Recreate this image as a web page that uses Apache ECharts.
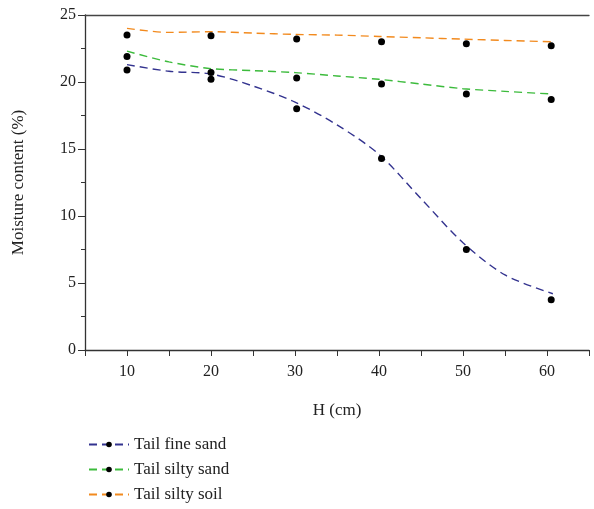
<!DOCTYPE html>
<html>
<head>
<meta charset="utf-8">
<script src="https://cdn.jsdelivr.net/npm/echarts@6/dist/echarts.min.js"></script>
<style>
  html, body { margin: 0; padding: 0; background: #fff; }
  #chart { width: 594px; height: 509px; }
</style>
</head>
<body>
<div id="chart"></div>
<script>
// measured points (H in cm, moisture in %)
const dotH = [10, 20, 30.2, 40.3, 50.4, 60.5]
const fineSandDots = [20.9, 20.2, 18.0, 14.3, 7.5, 3.75]
const siltySandDots = [21.9, 20.7, 20.3, 19.85, 19.1, 18.7]
const siltySoilDots = [23.5, 23.45, 23.2, 23.0, 22.85, 22.7]

// fitted curves
const fitH = [10, 15, 20, 25, 30, 35, 40, 45, 50, 55, 60.7]
const fineSandFit = [21.3, 20.8, 20.6, 19.7, 18.5, 16.8, 14.6, 11.3, 8.0, 5.6, 4.2]
const siltySandFit = [22.3, 21.5, 21.0, 20.85, 20.7, 20.45, 20.2, 19.85, 19.5, 19.3, 19.1]
const siltySoilFit = [24.0, 23.7, 23.75, 23.65, 23.55, 23.5, 23.4, 23.3, 23.2, 23.1, 23.0]

const names = ['Tail fine sand', 'Tail silty sand', 'Tail silty soil']
const colors = ['#33338f', '#3cbb3c', '#f28a1e']

const yTicks = [0, 5, 10, 15, 20, 25]

const font = 'Liberation Serif'
const chart = echarts.init(document.getElementById('chart'))

function pairs(xs, ys) {
  return xs.map((x, i) => [x, ys[i]])
}

function fitSeries(name, color, ys) {
  return {
    name: name,
    type: 'line',
    smooth: 0.3,
    showSymbol: false,
    symbol: 'circle',
    data: pairs(fitH, ys),
    lineStyle: { color: color, width: 1.4, type: [8, 5] },
    itemStyle: { color: '#000', borderWidth: 0 },
    z: 2
  }
}

function dotSeries(name, ys) {
  return {
    name: name + ' data',
    type: 'scatter',
    symbol: 'circle',
    symbolSize: 7,
    data: pairs(dotH, ys),
    itemStyle: { color: '#000', opacity: 1 },
    z: 3
  }
}

const option = {
  animation: false,
  grid: { left: 85, right: 5, top: 15, bottom: 159 },
  legend: {
    data: names,
    orient: 'vertical',
    left: 83,
    top: 431,
    itemWidth: 40,
    itemHeight: 7,
    itemGap: 8,
    textStyle: { fontFamily: font, fontSize: 17, color: '#222' }
  },
  xAxis: [
    {
      type: 'value',
      min: 5,
      max: 65,
      interval: 5,
      name: 'H (cm)',
      nameLocation: 'middle',
      nameGap: 52,
      nameTextStyle: { fontFamily: font, fontSize: 17, color: '#222' },
      axisLine: { lineStyle: { color: '#333', width: 1.3 } },
      axisTick: { length: 6, lineStyle: { color: '#333' } },
      axisLabel: {
        fontFamily: font,
        fontSize: 16,
        color: '#222',
        margin: 14,
        formatter: v => (v % 10 === 0 && v >= 10 && v <= 60 ? String(v) : '')
      },
      splitLine: { show: false }
    },
    {
      type: 'value',
      position: 'top',
      min: 5,
      max: 65,
      axisLine: { lineStyle: { color: '#444', width: 1.3 } },
      axisTick: { show: false },
      axisLabel: { show: false },
      splitLine: { show: false }
    }
  ],
  yAxis: {
    type: 'value',
    min: yTicks[0],
    max: yTicks[yTicks.length - 1],
    interval: 5,
    name: 'Moisture content (%)',
    nameLocation: 'middle',
    nameGap: 58,
    nameTextStyle: { fontFamily: font, fontSize: 17, color: '#222' },
    axisLine: { show: true, lineStyle: { color: '#333', width: 1.3 } },
    axisTick: { show: true, length: 7, lineStyle: { color: '#333' } },
    minorTick: { show: true, splitNumber: 2, length: 4, lineStyle: { color: '#333' } },
    axisLabel: { fontFamily: font, fontSize: 16, color: '#222', margin: 9 },
    splitLine: { show: false }
  },
  series: [
    fitSeries(names[0], colors[0], fineSandFit),
    fitSeries(names[1], colors[1], siltySandFit),
    fitSeries(names[2], colors[2], siltySoilFit),
    dotSeries(names[0], fineSandDots),
    dotSeries(names[1], siltySandDots),
    dotSeries(names[2], siltySoilDots)
  ]
}

chart.setOption(option)
</script>
</body>
</html>
